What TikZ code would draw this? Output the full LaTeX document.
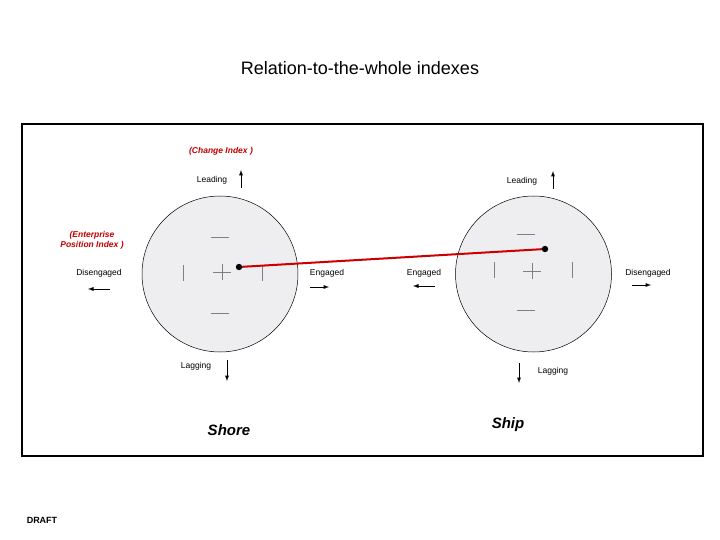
\documentclass[tikz,border=0pt]{standalone}
\usepackage{fontspec}
\setmainfont{Liberation Sans}
\begin{document}
\begin{tikzpicture}[x=1pt,y=-1pt,
  lbl/.style={font=\fontsize{8.5}{10}\selectfont,inner sep=0pt},
  red lbl/.style={font=\fontsize{8.5}{10}\selectfont\bfseries\itshape,text=red!75!black,align=center,inner sep=0pt},
  arr/.style={-latex,line width=0.9pt},
  tick/.style={gray,line width=0.6pt},
  circ/.style={circle,draw=black,line width=0.5pt,fill=blue!8!gray!12,minimum size=156pt,inner sep=0pt},
  big/.style={font=\fontsize{15}{18}\selectfont\bfseries\itshape}]
\useasboundingbox (0,0) rectangle (720,540);
\node[font=\fontsize{18}{21}\selectfont] (title) at (360,68) {Relation-to-the-whole indexes};
\draw[line width=1.2pt] (22,124) rectangle (703,456);
\node[circ] (c1) at (220,274) {};
\node[circ] (c2) at (533.5,274) {};
\draw[tick] (211,237)--(229,237) (211,313)--(229,313) (183,265)--(183,281) (262,265)--(262,281)
  (213,272)--(231,272) (222,264)--(222,280);
\draw[tick] (517,234)--(535,234) (517,310)--(535,310) (494,262)--(494,278) (572,262)--(572,278)
  (523,271)--(541,271) (532,263)--(532,279);
\coordinate (d1) at (239,267);
\coordinate (d2) at (545,249);
\draw[red!80!black,line width=2pt] (d1)--(d2);
\fill (d1) circle (3.2pt) (d2) circle (3.2pt);
\node[red lbl] (ci) at (221,151) {(Change Index )};
\node[red lbl] (epi) at (92,240) {(Enterprise\\Position Index )};
\node[lbl] (lead1) at (212,180) {Leading};
\coordinate (la1s) at (241,188); \coordinate (la1e) at (241,170);
\draw[arr] (la1s)--(la1e);
\node[lbl] (lead2) at (522,181) {Leading};
\coordinate (la2s) at (553,189); \coordinate (la2e) at (553,171);
\draw[arr] (la2s)--(la2e);
\node[lbl] (lag1) at (196,366) {Lagging};
\coordinate (lg1s) at (227,360); \coordinate (lg1e) at (227,381);
\draw[arr] (lg1s)--(lg1e);
\node[lbl] (lag2) at (553,371) {Lagging};
\coordinate (lg2s) at (519,363); \coordinate (lg2e) at (519,383);
\draw[arr] (lg2s)--(lg2e);
\node[lbl] (dis1) at (99,273) {Disengaged};
\coordinate (ds1s) at (110,289); \coordinate (ds1e) at (88,289);
\draw[arr] (ds1s)--(ds1e);
\node[lbl] (eng1) at (327,273) {Engaged};
\coordinate (e1s) at (310,287); \coordinate (e1e) at (329,287);
\draw[arr] (e1s)--(e1e);
\node[lbl] (eng2) at (424,273) {Engaged};
\coordinate (e2s) at (435,286); \coordinate (e2e) at (413,286);
\draw[arr] (e2s)--(e2e);
\node[lbl] (dis2) at (648,273) {Disengaged};
\coordinate (ds2s) at (632,285); \coordinate (ds2e) at (651,285);
\draw[arr] (ds2s)--(ds2e);
\node[big] (shore) at (229,430) {Shore};
\node[big] (ship) at (508,425) {Ship};
\node[font=\fontsize{9}{10}\selectfont\bfseries] (draft) at (42,520) {DRAFT};
\end{tikzpicture}
\end{document}
